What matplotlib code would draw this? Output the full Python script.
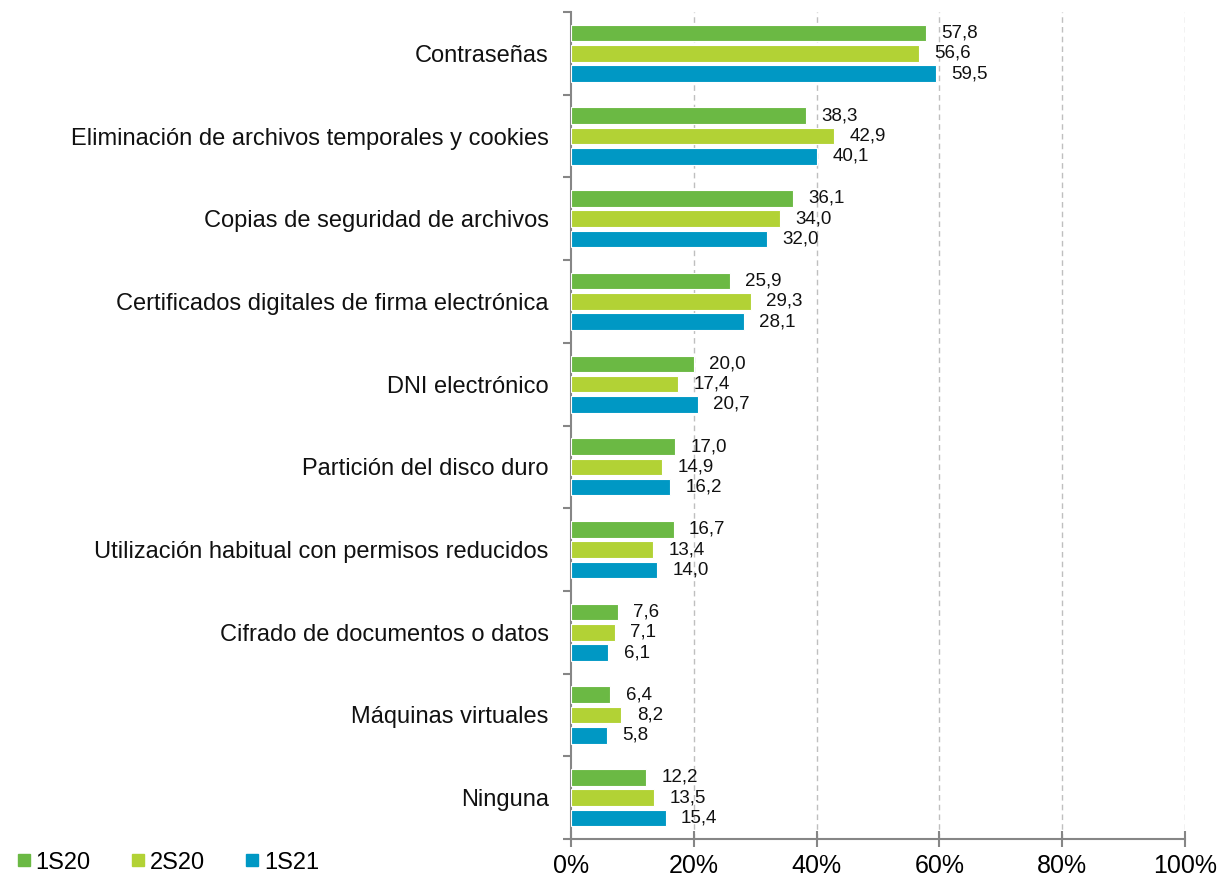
import matplotlib.pyplot as plt
from matplotlib.lines import Line2D
import numpy as np

plt.rcParams['font.family'] = ['Liberation Sans', 'DejaVu Sans']

# --- datos ---
categorias = [
    "Contraseñas",
    "Eliminación de archivos temporales y cookies",
    "Copias de seguridad de archivos",
    "Certificados digitales de firma electrónica",
    "DNI electrónico",
    "Partición del disco duro",
    "Utilización habitual con permisos reducidos",
    "Cifrado de documentos o datos",
    "Máquinas virtuales",
    "Ninguna",
]
v_1s20 = [57.8, 38.3, 36.1, 25.9, 20.0, 17.0, 16.7, 7.6, 6.4, 12.2]
v_2s20 = [56.6, 42.9, 34.0, 29.3, 17.4, 14.9, 13.4, 7.1, 8.2, 13.5]
v_1s21 = [59.5, 40.1, 32.0, 28.1, 20.7, 16.2, 14.0, 6.1, 5.8, 15.4]
series = ["1S20", "2S20", "1S21"]
colores = ["#6BB944", "#B2D235", "#0098C4"]
ticks_x = [0, 20, 40, 60, 80, 100]

fig = plt.figure(figsize=(12.17, 8.74), dpi=100)
ax = fig.add_axes([0.4692, 0.0400, 0.5045, 0.9463])

y = np.arange(len(categorias))
alto = 0.2
desp = 0.245
for k, (vals, col) in enumerate(zip([v_1s20, v_2s20, v_1s21], colores)):
    pos = y + (k - 1) * desp
    ax.barh(pos, vals, height=alto, color=col, edgecolor='white', linewidth=0.8, zorder=3)
    for p, v in zip(pos, vals):
        ax.annotate(f"{v:.1f}".replace('.', ','), (v, p), xytext=(11, 0),
                    textcoords='offset points', va='center', ha='left',
                    fontsize=13.5, color='#111111', zorder=4)

ax.set_xlim(0, 100)
ax.set_ylim(len(categorias) - 0.5, -0.5)
ax.set_xticks(ticks_x)
ax.set_xticklabels([f"{t}%" for t in ticks_x], fontsize=18)
ax.set_yticks(y)
ax.set_yticklabels(categorias, fontsize=17, color='#111111')
ax.set_yticks(np.arange(-0.5, len(categorias), 1), minor=True)

for t in ticks_x[1:]:
    ax.axvline(t, color='#BFBFBF', linestyle=(0, (4, 3)), linewidth=1, zorder=1)

for s in ['top', 'right']:
    ax.spines[s].set_visible(False)
for s in ['left', 'bottom']:
    ax.spines[s].set_color('#868686')
    ax.spines[s].set_linewidth(1.5)

ax.tick_params(axis='y', which='major', length=0, pad=16)
ax.tick_params(axis='y', which='minor', length=6, width=1.5, color='#868686', direction='out')
ax.tick_params(axis='x', which='major', length=12, width=1.5, color='#868686',
               direction='inout', pad=5)

# leyenda abajo a la izquierda
handles = [Line2D([0], [0], marker='s', linestyle='none', markersize=9,
                  markerfacecolor=c, markeredgecolor=c) for c in colores]
fig.legend(handles, series, loc='center left', bbox_to_anchor=(0.002, 0.013),
           ncol=3, frameon=False, fontsize=17, handletextpad=0.0,
           columnspacing=1.5, handlelength=1.0, borderaxespad=0)

fig.savefig("out.png", dpi=100)
